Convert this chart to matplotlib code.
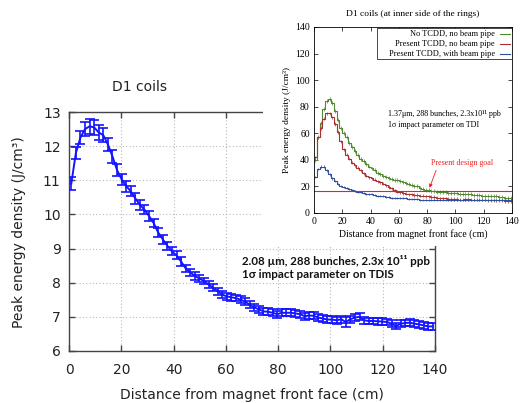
import matplotlib
matplotlib.use("Agg")
import matplotlib.pyplot as plt
from matplotlib.patches import Rectangle

# ---------------- main chart data ----------------
main_x = [0.875 + 1.75 * i for i in range(80)]
main_y = [10.9, 11.8, 12.25, 12.5, 12.58, 12.55, 12.4, 12.32, 12.05, 11.7,
          11.3, 11.03, 10.83, 10.68, 10.47, 10.28, 10.14, 9.95, 9.75, 9.47,
          9.27, 9.08, 8.92, 8.8, 8.62, 8.42, 8.3, 8.2, 8.12, 8.05,
          7.95, 7.85, 7.75, 7.65, 7.6, 7.57, 7.55, 7.5, 7.45, 7.35,
          7.28, 7.22, 7.16, 7.15, 7.12, 7.08, 7.12, 7.12, 7.12, 7.1,
          7.08, 7.02, 7.04, 7.03, 6.98, 6.95, 6.92, 6.92, 6.9, 6.93,
          6.85, 6.93, 6.98, 7.0, 6.9, 6.88, 6.88, 6.87, 6.86, 6.85,
          6.8, 6.73, 6.8, 6.82, 6.83, 6.8, 6.78, 6.75, 6.72, 6.72]
main_err = [0.19, 0.18, 0.2, 0.2, 0.22, 0.22, 0.21, 0.2, 0.19, 0.18,
            0.17, 0.16, 0.16, 0.15, 0.15, 0.14, 0.14, 0.14, 0.13, 0.13,
            0.13, 0.12, 0.12, 0.12, 0.12, 0.11, 0.11, 0.11, 0.11, 0.1,
            0.1, 0.1, 0.1, 0.1, 0.1, 0.1, 0.1, 0.1, 0.1, 0.1,
            0.1, 0.1, 0.1, 0.1, 0.1, 0.1, 0.1, 0.1, 0.1, 0.1,
            0.1, 0.1, 0.1, 0.1, 0.1, 0.1, 0.1, 0.1, 0.1, 0.1,
            0.15, 0.1, 0.1, 0.1, 0.1, 0.1, 0.1, 0.1, 0.1, 0.1,
            0.1, 0.1, 0.1, 0.1, 0.1, 0.1, 0.1, 0.1, 0.1, 0.1]
main_xticks = [0, 20, 40, 60, 80, 100, 120, 140]
main_yticks = [6, 7, 8, 9, 10, 11, 12, 13]

# ---------------- inset chart data ----------------
ins_x = [1 + 2 * i for i in range(70)]
green_y = [40, 57, 68, 78, 84, 86, 83, 77, 70, 64,
           60, 57, 53, 50, 47, 44, 41, 39, 37, 35,
           33.5, 32, 30, 29, 28, 27, 26.5, 25.5, 25, 24.5,
           24, 23, 22.5, 21.5, 21, 20.5, 20, 19, 18, 17,
           17, 16.5, 16.5, 16, 16, 16, 15.5, 15, 15, 15,
           15, 14.5, 14.5, 14, 14, 14, 13.5, 13.5, 13.5, 13,
           13, 13, 12.5, 12.5, 12.5, 12, 12, 11.5, 11.5, 11]
red_y = [42, 57, 64, 71, 75, 75, 72, 67, 61, 54,
         48, 44, 41, 38, 36, 34, 32, 30, 28, 27,
         26, 25, 24, 23, 22, 21, 19.5, 18.5, 17, 16,
         15.5, 15, 14.5, 14, 14, 13.5, 13.5, 13, 13, 12.5,
         12.5, 12, 12, 11.5, 11, 11, 11, 10.5, 10.5, 10.5,
         10.5, 10, 10, 10.5, 10.5, 10, 10, 10, 10, 10,
         10, 9.5, 9.5, 9.5, 9.5, 9.5, 9.5, 9, 9, 9]
blue_y = [27, 33, 35, 35, 32, 29, 26, 24, 22, 20.5,
          19.5, 18.5, 18, 17, 16.5, 16, 15.5, 15, 14.5, 14,
          14, 13.5, 13, 13, 12.5, 12, 12, 11.5, 11.5, 11,
          11, 11, 11, 10.5, 10.5, 10.5, 10.5, 10, 10, 10,
          10, 10, 10, 10, 10, 10, 10, 10, 10, 10,
          10, 10, 10, 10, 10, 10, 10, 10, 10, 10,
          10, 9.5, 9.5, 9.5, 9.5, 9.5, 9.5, 9.5, 9.5, 9.5]
green_err = 1.5
red_err = 1.2
blue_err = 0.8
design_goal = 16.5
ins_ticks = [0, 20, 40, 60, 80, 100, 120, 140]
legend_labels = ["No TCDD, no beam pipe", "Present TCDD, no beam pipe",
                 "Present TCDD, with beam pipe"]

W, H = 530, 403
fig = plt.figure(figsize=(W / 100, H / 100), dpi=100)


def fx(px):
    return px / W


def fy(py):
    return 1 - py / H


# ---------------- main axes ----------------
ax = fig.add_axes([fx(69), fy(351), fx(435) - fx(69), fy(112) - fy(351)])
ax.errorbar(main_x, main_y, yerr=main_err, color="#1414ff", lw=1.4,
            elinewidth=1.2, capsize=3.3, capthick=1.2, zorder=3)
ax.set_xlim(0, 140)
ax.set_ylim(6, 13)
ax.set_xticks(main_xticks)
ax.set_yticks(main_yticks)
ax.grid(True, linestyle=(0, (1, 2)), color="#b8b8b8", lw=0.8)
ax.tick_params(direction="in", top=True, right=True, length=4, width=1,
               color="#444444", labelsize=10, labelcolor="#222222")
ax.tick_params(axis="x", pad=9)
ax.tick_params(axis="y", pad=6)
for s in ax.spines.values():
    s.set_color("#444444")
    s.set_linewidth(1)

fig.text(fx(140), fy(87), "D1 coils", ha="center", va="center",
         fontsize=10, color="#222222")
fig.text(fx(252), fy(395), "Distance from magnet front face (cm)",
         ha="center", va="center", fontsize=10, color="#222222")
fig.text(fx(19), fy(232), "Peak energy density (J/cm³)", rotation=90,
         ha="center", va="center", fontsize=10, color="#222222")

fig.text(fx(242), fy(261), "2.08 µm, 288 bunches, 2.3x 10¹¹ ppb",
         ha="left", va="center", fontsize=8.3, fontweight="bold",
         family=["Lato", "DejaVu Sans"], color="#111111")
fig.text(fx(242), fy(274), "1σ impact parameter on TDIS",
         ha="left", va="center", fontsize=8.3, fontweight="bold",
         family=["Lato", "DejaVu Sans"], color="#111111")

# ---------------- inset white background ----------------
bg = fig.add_axes([fx(263), fy(246), 1 - fx(263), fy(0) - fy(246)])
bg.set_facecolor("white")
bg.set_xticks([])
bg.set_yticks([])
for s in bg.spines.values():
    s.set_visible(False)

# ---------------- inset axes ----------------
serif = ["Liberation Serif", "DejaVu Serif"]
ins = fig.add_axes([fx(314), fy(213), fx(512) - fx(314), fy(27) - fy(213)])
ins.set_facecolor("white")
series = [(green_y, green_err, "#4f8a2e"), (red_y, red_err, "#a83232"),
          (blue_y, blue_err, "#2f4f9e")]
for yv, ev, col in series:
    ins.errorbar(ins_x, yv, yerr=ev, color=col, lw=0.8, elinewidth=0.5,
                 capsize=0, drawstyle="steps-mid")
ins.axhline(design_goal, color="#f02020", lw=0.8)
ins.set_xlim(0, 140)
ins.set_ylim(0, 140)
ins.set_xticks(ins_ticks)
ins.set_yticks(ins_ticks)
ins.tick_params(direction="in", top=True, right=True, length=3, width=0.5,
                labelsize=7, pad=3)
for lab in ins.get_xticklabels() + ins.get_yticklabels():
    lab.set_family(serif)
for s in ins.spines.values():
    s.set_linewidth(0.6)

ins.set_title("D1 coils (at inner side of the rings)", fontsize=6.8,
              family=serif, pad=8)
ins.set_xlabel("Distance from magnet front face (cm)", fontsize=7,
               family=serif, labelpad=2)
ins.set_ylabel("Peak energy density (J/cm³)", fontsize=6.8, family=serif,
               labelpad=3)

ins.text(52.5, 74.3, "1.37μm, 288 bunches, 2.3x10¹¹ ppb", fontsize=5.8,
         family=serif, va="center")
ins.text(52.5, 66.2, "1σ impact parameter on TDI", fontsize=5.8,
         family=serif, va="center")
ins.text(83, 38, "Present design goal", fontsize=5.8, family=serif,
         va="center", color="#f02020")
ins.annotate("", xy=(81, design_goal + 0.5), xytext=(87, 34),
             arrowprops=dict(arrowstyle="-|>", color="#f02020", lw=0.6,
                             mutation_scale=5))

# manual legend
ins.add_patch(Rectangle((44.3, 115.7), 95.5, 23.5, fill=True,
                        facecolor="white", edgecolor="black", lw=0.5,
                        zorder=4))
rows = [134.5, 127.0, 119.4]
for lab, yy, (_, _, col) in zip(legend_labels, rows, series):
    ins.text(128, yy, lab, ha="right", va="center", fontsize=6,
             family=serif, zorder=5)
    ins.plot([131.5, 138.5], [yy, yy], color=col, lw=0.8, zorder=5)

fig.savefig("out.png", dpi=100)
